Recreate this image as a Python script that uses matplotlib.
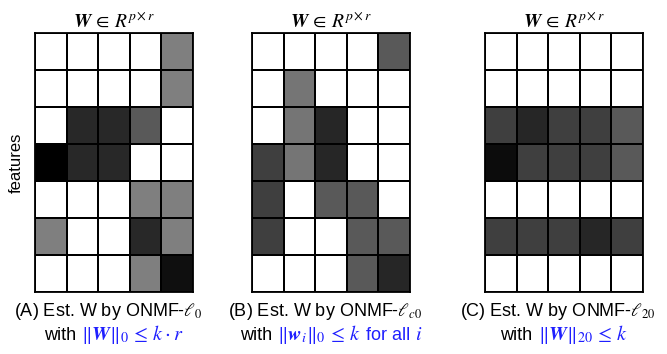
import numpy as np
import matplotlib.pyplot as plt
from matplotlib.offsetbox import TextArea, HPacker, AnchoredOffsetbox

plt.rcParams['font.family'] = ['Liberation Sans', 'DejaVu Sans']
plt.rcParams['mathtext.fontset'] = 'stix'

# Estimated W (7 features x 5 components); 0 = empty cell, 1 = darkest
w_l0 = [
    [0, 0, 0, 0, 0.50],
    [0, 0, 0, 0, 0.50],
    [0, 0.84, 0.84, 0.65, 0],
    [1.00, 0.84, 0.84, 0, 0],
    [0, 0, 0, 0.50, 0.50],
    [0.50, 0, 0, 0.84, 0.50],
    [0, 0, 0, 0.50, 0.94],
]
w_lc0 = [
    [0, 0, 0, 0, 0.65],
    [0, 0.54, 0, 0, 0],
    [0, 0.54, 0.85, 0, 0],
    [0.75, 0.54, 0.85, 0, 0],
    [0.75, 0, 0.65, 0.65, 0],
    [0.75, 0, 0, 0.65, 0.65],
    [0, 0, 0, 0.65, 0.85],
]
w_l20 = [
    [0, 0, 0, 0, 0],
    [0, 0, 0, 0, 0],
    [0.75, 0.85, 0.75, 0.75, 0.65],
    [0.95, 0.75, 0.75, 0.75, 0.65],
    [0, 0, 0, 0, 0],
    [0.75, 0.75, 0.75, 0.85, 0.75],
    [0, 0, 0, 0, 0],
]

titles = [r'$\mathbfit{W}\,\in\,R^{p\times r}$'] * 3
captions = [
    '(A) Est. W by ONMF-$\\ell_0$',
    '(B) Est. W by ONMF-$\\ell_{c0}$',
    '(C) Est. W by ONMF-$\\ell_{20}$',
]
constraints = [
    [r'$\|\mathbfit{W}\|_0 \, \leq \, k \cdot r$'],
    [r'$\|\mathbfit{w}_i\|_0 \, \leq \, k$', ' for all ', r'$i$'],
    [r'$\|\mathbfit{W}\|_{20} \, \leq \, k$'],
]

blue = '#1f1fff'
lefts = [35, 252, 485]

fig = plt.figure(figsize=(6.67, 3.54), dpi=100)

for i, W in enumerate([w_l0, w_lc0, w_l20]):
    W = np.array(W)
    ax = fig.add_axes([lefts[i] / 667, 62 / 354, 158 / 667, 259 / 354])
    ax.pcolormesh(W, cmap='gray_r', vmin=0, vmax=1,
                  edgecolors='black', linewidth=1.3)
    ax.set_xlim(0, W.shape[1])
    ax.set_ylim(W.shape[0], 0)
    ax.set_xticks([])
    ax.set_yticks([])
    for s in ax.spines.values():
        s.set_linewidth(1.3)
    ax.set_title(titles[i], fontsize=14, pad=5)
    if i == 0:
        ax.set_ylabel('features', fontsize=12, labelpad=8)

    cx = (lefts[i] + 79) / 667
    fig.text(cx - 6 / 667, 1 - 312 / 354, captions[i], fontsize=13,
             ha='center', va='center')

    parts = [TextArea('with ', textprops=dict(fontsize=13, color='black'))]
    for p in constraints[i]:
        size = 13 if p == ' for all ' else 14.5
        parts.append(TextArea(p, textprops=dict(fontsize=size, color=blue)))
    row = HPacker(children=parts, align='baseline', pad=0, sep=0)
    box = AnchoredOffsetbox(loc='center', child=row, frameon=False, pad=0,
                            borderpad=0, bbox_to_anchor=(cx, 1 - 335 / 354),
                            bbox_transform=fig.transFigure)
    fig.add_artist(box)

fig.savefig('out.png', dpi=100)
